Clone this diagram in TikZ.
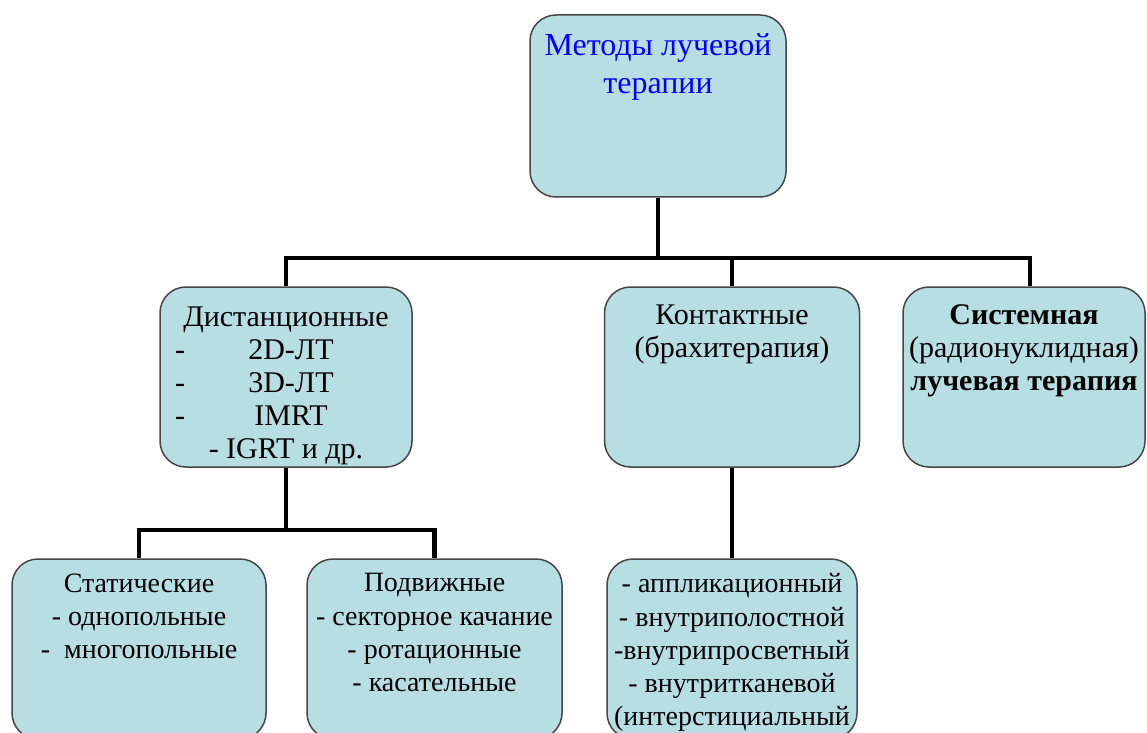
\documentclass[tikz,border=0pt]{standalone}
\usepackage{fontspec}
\setmainfont{Liberation Serif}
\newfontfamily\rufont{Liberation Serif}
\usepackage{tikz}
\usetikzlibrary{positioning}
\definecolor{boxfill}{RGB}{183,222,226}
\definecolor{boxline}{RGB}{70,70,70}
\tikzset{
  mbox/.style  = {draw=boxline, fill=boxfill, line width=0.75pt,
                  rounded corners=13pt, minimum width=#1,
                  minimum height=90pt, inner sep=0pt},
  mtext/.style = {align=center, inner sep=0pt,
                  font=\rufont\fontsize{15}{16.5}\selectfont},
  ltext/.style = {mtext, font=\rufont\fontsize{14}{16.6}\selectfont},
  link/.style  = {line width=2.25pt}
}
\newcommand{\dline}[1]{\makebox[111pt]{-\hfill #1\hfill}}

\begin{document}
\begin{tikzpicture}[x=0.5pt, y=-0.5pt]
  \clip (0,0) rectangle (1147,733);
  \fill[white] (0,0) rectangle (1147,733);

  % Root
  \node[mbox=128pt, minimum height=91pt] (meth) at (658,106) {};
  \node[mtext, font=\rufont\fontsize{16}{19}\selectfont, text=blue,
        below=9.5pt of meth.north] (meth-t) {Методы лучевой\\терапии};

  % Second level
  \node[mbox=126pt] (dist) at (286,377) {};
  \node[mtext, below=10pt of dist.north] (dist-t)
    {Дистанционные\\\dline{2D-ЛТ}\\\dline{3D-ЛТ}\\\dline{IMRT}\\- IGRT и др.};

  \node[mbox=127.5pt] (cont) at (732,377) {};
  \node[mtext, below=9pt of cont.north] (cont-t)
    {Контактные\\(брахитерапия)};

  \node[mbox=121pt] (sys) at (1024,377) {};
  \node[mtext, below=9pt of sys.north] (sys-t)
    {\textbf{Системная}\\(радионуклидная)\\\textbf{лучевая терапия}};

  % Third level
  \node[mbox=127pt] (stat) at (139,649) {};
  \node[ltext, below=7.5pt of stat.north] (stat-t)
    {Статические\\- однопольные\\-~~многопольные};

  \node[mbox=127.5pt] (mob) at (434.5,649) {};
  \node[ltext, below=7.5pt of mob.north] (mob-t)
    {Подвижные\\- секторное качание\\- ротационные\\- касательные};

  \node[mbox=125pt] (app) at (732,649) {};
  \node[ltext, below=7.5pt of app.north] (app-t)
    {- аппликационный\\- внутриполостной\\-внутрипросветный\\- внутритканевой\\(интерстициальный};

  % Connectors
  \draw[link] (meth.south) -- ++(0,60) coordinate (topbus);
  \draw[link] (dist.north) |- (topbus) -| (cont.north);
  \draw[link] (topbus) -| ([xshift=3pt]sys.north);
  \draw[link] (dist.south) -- ++(0,62) coordinate (distbus);
  \draw[link] (stat.north) |- (distbus) -| (mob.north);
  \draw[link] (cont.south) -- (app.north);
\end{tikzpicture}
\end{document}
